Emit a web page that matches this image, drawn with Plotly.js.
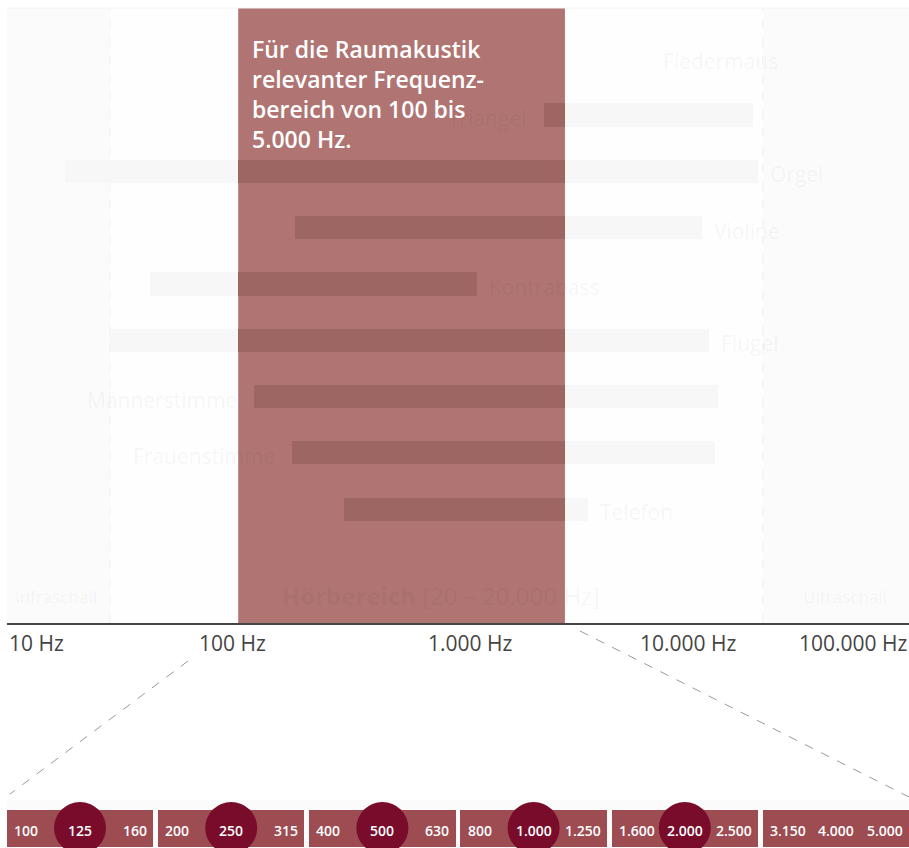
<!DOCTYPE html>
<html>
<head>
<meta charset="utf-8">
<script src="https://cdn.plot.ly/plotly-3.0.1.min.js"></script>
<style>html,body{margin:0;padding:0;background:#fff;}#chart{width:909px;height:848px;}</style>
</head>
<body>
<div id="chart"></div>
<script>
// ---- data ----
const categories = ['Fledermaus','Triangel','Orgel','Violine','Kontrabass','Flügel','Männerstimme','Frauenstimme','Telefon'];
const lowHz  = [null, 2400, 18, 190, 43, 28.6, 125, 184, 312];
const highHz = [null, 20300, 21400, 12100, 1210, 13000, 14200, 13800, 3770];
const labelSide = ['center','left','right','right','right','right','left','left','right'];
const fledermausLabelHz = 14650;

const roomBandHz = [106, 2980];          // "Raumakustik" band as drawn
const hearingLimitsHz = [28.6, 22500];   // dashed limits as drawn (Infra / Ultra)
const hearingLabelHz = 840;

const tickVals = [10, 100, 1000, 10000, 100000];
const tickText = ['10 Hz', '100 Hz', '1.000 Hz', '10.000 Hz', '100.000 Hz'];

const thirdOctaves = ['100','125','160','200','250','315','400','500','630','800','1.000','1.250','1.600','2.000','2.500','3.150','4.000','5.000'];
const highlighted  = ['125','250','500','1.000','2.000'];

// ---- layout constants ----
const W = 909, H = 848;
const plotLeft = 7, plotTop = 8, plotBottom = 623;
const yDom = [1 - plotBottom / H, 1 - plotTop / H];
const xDom = [plotLeft / W, 1];
const FONT = 'Open Sans, Noto Sans, sans-serif';

const BAND = '#b07472', DARK = '#9e6663', GRAY = '#f7f7f7';
const faint = 'rgba(0,0,0,0.05)';

// ---- bar segments computed from data ----
const gray = {y: [], x: [], base: []};
const dark = {y: [], x: [], base: []};
categories.forEach((c, i) => {
  const lo = lowHz[i], hi = highHz[i];
  if (lo == null) return;
  if (lo < roomBandHz[0]) { const e = Math.min(hi, roomBandHz[0]); gray.y.push(c); gray.base.push(lo); gray.x.push(e - lo); }
  if (hi > roomBandHz[1]) { const s = Math.max(lo, roomBandHz[1]); gray.y.push(c); gray.base.push(s); gray.x.push(hi - s); }
  const ds = Math.max(lo, roomBandHz[0]), de = Math.min(hi, roomBandHz[1]);
  if (de > ds) { dark.y.push(c); dark.base.push(ds); dark.x.push(de - ds); }
});

const barW = 0.41;
const traces = [
  {type: 'bar', orientation: 'h', y: gray.y, x: gray.x, base: gray.base, width: barW,
   marker: {color: GRAY, line: {width: 0}}, hoverinfo: 'skip', xaxis: 'x', yaxis: 'y'},
  {type: 'bar', orientation: 'h', y: dark.y, x: dark.x, base: dark.base, width: barW,
   marker: {color: DARK, line: {width: 0}}, hoverinfo: 'skip', xaxis: 'x', yaxis: 'y'}
];

// bottom strip: boxes of three third-octave bands each
const nBoxes = thirdOctaves.length / 3;
const boxIdx = Array.from({length: nBoxes}, (_, i) => i);
const boxBase = 0.02, boxTop = 0.792;
traces.push({type: 'bar', x: boxIdx, y: boxIdx.map(() => boxTop - boxBase), base: boxIdx.map(() => boxBase),
  width: 0.967, marker: {color: '#9d4c52', line: {width: 0}}, hoverinfo: 'skip', xaxis: 'x2', yaxis: 'y2'});

const circX = [], circY = [];
thirdOctaves.forEach((t, j) => {
  if (highlighted.includes(t)) { circX.push(Math.floor(j / 3) + (j % 3 - 1) * 0.483); circY.push(0.417); }
});
traces.push({type: 'scatter', mode: 'markers', x: circX, y: circY, cliponaxis: false,
  marker: {size: 52, color: '#790c2a', line: {width: 0}}, hoverinfo: 'skip', xaxis: 'x2', yaxis: 'y2'});

// ---- annotations ----
const ann = [];
categories.forEach((c, i) => {
  const side = labelSide[i];
  let a = {xref: 'x', yref: 'y', y: c, yshift: -3, text: c, showarrow: false,
           font: {family: FONT, size: 21, color: faint}};
  if (side === 'left') { a.x = Math.log10(lowHz[i]); a.xanchor = 'right'; a.xshift = -15; }
  else if (side === 'right') { a.x = Math.log10(highHz[i]); a.xanchor = 'left'; a.xshift = 10; }
  else { a.x = Math.log10(fledermausLabelHz); a.xanchor = 'center'; a.yshift = -2; }
  ann.push(a);
});

ann.push({xref: 'x', yref: 'y', x: Math.log10(hearingLabelHz), y: 9.53, showarrow: false, xanchor: 'center',
  text: '<b>Hörbereich</b> [20 – 20.000 Hz]', font: {family: FONT, size: 24, color: faint}});
ann.push({xref: 'x', yref: 'y', x: 1, y: 9.55, xshift: 6, xanchor: 'left', showarrow: false,
  text: 'Infraschall', font: {family: FONT, size: 17, color: faint}});
ann.push({xref: 'x', yref: 'y', x: 5, y: 9.55, xshift: -20, xanchor: 'right', showarrow: false,
  text: 'Ultraschall', font: {family: FONT, size: 17, color: faint}});

ann.push({xref: 'x', yref: 'paper', x: Math.log10(roomBandHz[0]), y: 1 - 31 / H, xanchor: 'left', yanchor: 'top',
  xshift: 12, align: 'left', showarrow: false,
  text: 'Für die Raumakustik<br>relevanter Frequenz-<br>bereich von 100 bis<br>5.000 Hz.',
  font: {family: FONT, size: 23, color: '#ffffff', weight: 600}});

tickVals.forEach((v, k) => {
  const anchor = k === 0 ? 'left' : (k === tickVals.length - 1 ? 'right' : 'center');
  ann.push({xref: 'x', yref: 'paper', x: Math.log10(v), y: yDom[0], yanchor: 'top', yshift: -4,
    xanchor: anchor, xshift: (v === 1000 ? 12 : (v === 10000 ? 4 : 0)), showarrow: false, text: tickText[k],
    font: {family: FONT, size: 21, color: '#444444'}});
});

thirdOctaves.forEach((t, j) => {
  const b = Math.floor(j / 3), s = j % 3;
  ann.push({xref: 'x2', yref: 'y2', x: b + (s - 1) * 0.483, y: 0.375, showarrow: false,
    xanchor: s === 0 ? 'left' : (s === 2 ? 'right' : 'center'), xshift: s === 0 ? 5 : (s === 2 ? -4 : 0),
    text: t, font: {family: FONT, size: 14, color: '#ffffff', weight: 600}});
});

// ---- shapes ----
const shapes = [
  // hearing range background (white between the limits)
  {type: 'rect', xref: 'x', yref: 'paper', x0: hearingLimitsHz[0], x1: hearingLimitsHz[1], y0: yDom[0], y1: yDom[1],
   fillcolor: '#fefefe', line: {width: 0}, layer: 'below'},
  // room acoustics band
  {type: 'rect', xref: 'x', yref: 'paper', x0: roomBandHz[0], x1: roomBandHz[1], y0: yDom[0], y1: yDom[1],
   fillcolor: BAND, line: {width: 0}, layer: 'below'},
  // dashed hearing limits
  {type: 'line', xref: 'x', yref: 'paper', x0: hearingLimitsHz[0], x1: hearingLimitsHz[0], y0: yDom[0], y1: yDom[1],
   line: {color: '#f4f4f4', width: 1.5, dash: 'dash'}, layer: 'below'},
  {type: 'line', xref: 'x', yref: 'paper', x0: hearingLimitsHz[1], x1: hearingLimitsHz[1], y0: yDom[0], y1: yDom[1],
   line: {color: '#f4f4f4', width: 1.5, dash: 'dash'}, layer: 'below'},
  // top border
  {type: 'line', xref: 'paper', yref: 'paper', x0: xDom[0], x1: 1, y0: yDom[1], y1: yDom[1],
   line: {color: '#f2f2f2', width: 1}, layer: 'below'},
  // zoom connector lines
  {type: 'line', xref: 'paper', yref: 'paper', x0: 188 / W, y0: 1 - 661 / H, x1: 10 / W, y1: 1 - 794 / H,
   line: {color: '#9a9a9a', width: 1, dash: 'dash'}},
  {type: 'line', xref: 'paper', yref: 'paper', x0: 580 / W, y0: 1 - 631 / H, x1: 909 / W, y1: 1 - 797 / H,
   line: {color: '#9a9a9a', width: 1, dash: 'dash'}}
];

const layout = {
  width: W, height: H,
  margin: {l: 0, r: 0, t: 0, b: 0, pad: 0},
  paper_bgcolor: '#ffffff', plot_bgcolor: '#fbfbfb',
  showlegend: false, barmode: 'overlay', bargap: 0,
  xaxis: {type: 'log', range: [1, 5], domain: xDom, anchor: 'y', showgrid: false, zeroline: false,
          showticklabels: false, ticks: '', showline: true, linecolor: '#444444', linewidth: 2, fixedrange: true},
  yaxis: {type: 'category', categoryarray: categories, categoryorder: 'array', range: [10.02, -0.9],
          domain: yDom, anchor: 'x', showgrid: false, zeroline: false, showticklabels: false, ticks: '',
          showline: false, fixedrange: true},
  xaxis2: {range: [-0.483, 5.483], domain: xDom, anchor: 'y2', visible: false, fixedrange: true},
  yaxis2: {range: [0, 1], domain: [0, 48 / H], anchor: 'x2', visible: false, fixedrange: true},
  annotations: ann,
  shapes: shapes
};

Plotly.newPlot('chart', traces, layout, {displayModeBar: false, staticPlot: true});
</script>
</body>
</html>
